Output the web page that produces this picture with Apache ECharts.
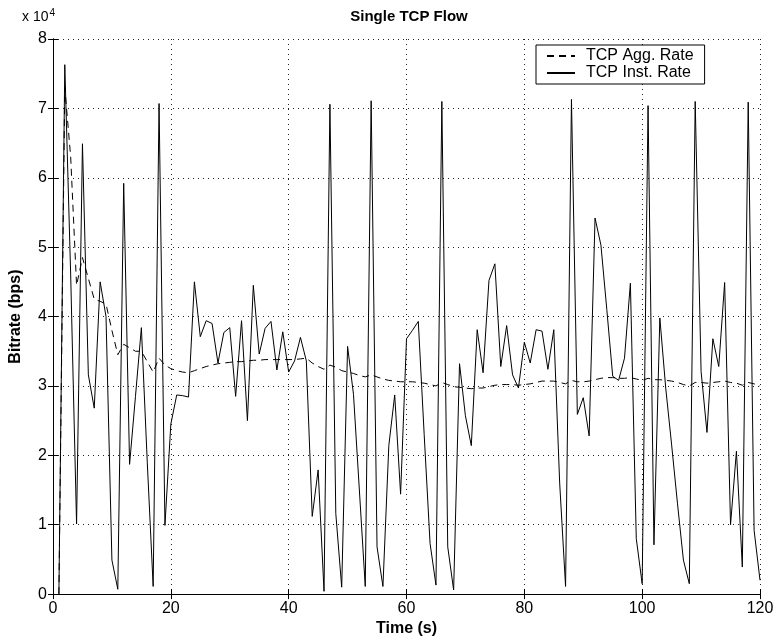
<!DOCTYPE html>
<html>
<head>
<meta charset="utf-8">
<script src="https://cdn.jsdelivr.net/npm/echarts@6/dist/echarts.min.js"></script>
<style>html,body{margin:0;padding:0;background:#fff}#c{width:778px;height:642px}</style>
</head>
<body>
<div id="c"></div>
<script>
// Values in units of 10^4 bps, one sample per second starting at t = 1 s
var instRate = [0, 7.63, 4.6, 1.01, 6.49, 3.16, 2.68, 4.5, 4.0, 0.49,
  0.07, 5.92, 1.87, 2.85, 3.84, 1.9, 0.11, 7.07, 0.99, 2.45,
  2.87, 2.86, 2.84, 4.5, 3.71, 3.94, 3.9, 3.33, 3.77, 3.84,
  2.85, 3.94, 2.5, 4.45, 3.46, 3.83, 3.93, 3.23, 3.78, 3.2,
  3.36, 3.7, 3.36, 1.12, 1.79, 0.04, 7.06, 1.16, 0.1, 3.57,
  2.88, 1.5, 0.11, 7.11, 0.68, 0.11, 2.14, 2.87, 1.44, 3.68,
  3.8, 3.93, 2.3, 0.73, 0.13, 7.1, 0.68, 0.06, 3.32, 2.57,
  2.14, 3.81, 3.19, 4.52, 4.76, 3.28, 3.87, 3.16, 2.97, 3.63,
  3.33, 3.81, 3.79, 3.24, 3.81, 1.6, 0.11, 7.13, 2.59, 2.83,
  2.28, 5.42, 5.03, 4.1, 3.14, 3.08, 3.4, 4.48, 0.8, 0.15,
  7.04, 0.71, 3.98, 2.97, 2.15, 1.3, 0.49, 0.15, 7.1, 3.21,
  2.33, 3.68, 3.28, 4.49, 1.0, 2.06, 0.39, 7.09, 0.92, 0.2];
var aggRate = [0, 7.3, 6.3, 4.45, 4.85, 4.55, 4.25, 4.22, 4.18, 3.8,
  3.45, 3.6, 3.55, 3.5, 3.5, 3.35, 3.2, 3.4, 3.3, 3.25,
  3.22, 3.2, 3.19, 3.22, 3.25, 3.28, 3.3, 3.32, 3.33, 3.34,
  3.35, 3.35, 3.36, 3.37, 3.37, 3.38, 3.38, 3.38, 3.38, 3.38,
  3.38, 3.39, 3.4, 3.33, 3.28, 3.24, 3.3, 3.27, 3.22, 3.2,
  3.18, 3.15, 3.13, 3.16, 3.13, 3.1, 3.08, 3.07, 3.06, 3.06,
  3.06, 3.05, 3.04, 3.02, 3.0, 3.05, 3.02, 2.99, 2.98, 2.97,
  2.96, 2.97, 2.97, 2.99, 3.01, 3.02, 3.02, 3.02, 3.01, 3.02,
  3.03, 3.05, 3.07, 3.07, 3.07, 3.05, 3.03, 3.08, 3.06, 3.06,
  3.07, 3.09, 3.11, 3.12, 3.12, 3.11, 3.11, 3.12, 3.1, 3.08,
  3.11, 3.09, 3.09, 3.08, 3.07, 3.05, 3.02, 3.0, 3.05, 3.05,
  3.04, 3.05, 3.06, 3.07, 3.05, 3.04, 3.01, 3.05, 3.03, 3.0];
var xTicks = [0, 20, 40, 60, 80, 100, 120];
var yTicks = [0, 1, 2, 3, 4, 5, 6, 7, 8];
var seriesNames = ['TCP Agg. Rate', 'TCP Inst. Rate'];

var FONT = '"Liberation Sans", Arial, Helvetica, sans-serif';
function pairs(arr) { return arr.map(function (v, i) { return [i + 1, v]; }); }

var chart = echarts.init(document.getElementById('c'), null, { renderer: 'canvas' });
var gridLine = { show: true, lineStyle: { color: '#222', width: 1, type: [1, 4] } };
var xBase = { type: 'value', min: xTicks[0], max: xTicks[xTicks.length - 1], interval: 20,
  axisLine: { show: true, lineStyle: { color: '#000', width: 1 } },
  axisTick: { show: true, inside: true, length: 5, lineStyle: { color: '#000' } } };
var yBase = { type: 'value', min: yTicks[0], max: yTicks[yTicks.length - 1], interval: 1,
  axisLine: { show: true, lineStyle: { color: '#000', width: 1 } },
  axisTick: { show: true, inside: true, length: 5, lineStyle: { color: '#000' } } };

chart.setOption({
  animation: false,
  backgroundColor: '#fff',
  title: { text: 'Single TCP Flow', left: 404, textAlign: 'center', top: 4,
    textStyle: { fontFamily: FONT, fontSize: 15, fontWeight: 'bold', color: '#000' } },
  grid: { left: 48, right: 18, top: 39, bottom: 45 },
  legend: { data: seriesNames, orient: 'vertical', left: 536, top: 45,
    backgroundColor: '#fff', borderColor: '#000', borderWidth: 1, borderRadius: 0,
    padding: [3, 11, 3, 10], itemGap: 1, itemWidth: 28, itemHeight: 12,
    itemStyle: { opacity: 0 },
    textStyle: { fontFamily: FONT, fontSize: 16, color: '#000', padding: [0, 0, 0, 6] } },
  xAxis: [
    Object.assign({}, xBase, { position: 'bottom',
      name: 'Time (s)', nameLocation: 'middle', nameGap: 24,
      nameTextStyle: { fontFamily: FONT, fontSize: 16, fontWeight: 'bold', color: '#000' },
      axisLabel: { show: true, margin: 6, fontFamily: FONT, fontSize: 16, color: '#000' },
      splitLine: gridLine }),
    Object.assign({}, xBase, { position: 'top', axisLabel: { show: false }, splitLine: { show: false } })
  ],
  yAxis: [
    Object.assign({}, yBase, { position: 'left',
      name: 'Bitrate (bps)', nameLocation: 'middle', nameGap: 29, nameRotate: 90,
      nameTextStyle: { fontFamily: FONT, fontSize: 16, fontWeight: 'bold', color: '#000' },
      axisLabel: { show: true, margin: 6, fontFamily: FONT, fontSize: 16, color: '#000' },
      splitLine: gridLine }),
    Object.assign({}, yBase, { position: 'right', axisLabel: { show: false }, splitLine: { show: false } })
  ],
  graphic: [{ type: 'text', left: 22, top: 8,
    style: { text: 'x 10{s|4}', fontFamily: FONT, fontSize: 14, fill: '#000',
      rich: { s: { fontFamily: FONT, fontSize: 10, verticalAlign: 'top', padding: [0, 0, 9, 1] } } } }],
  series: [
    { name: seriesNames[0], type: 'line', data: pairs(aggRate), symbol: 'none', showSymbol: false,
      lineStyle: { color: '#000', width: 1, type: [7, 5] }, itemStyle: { color: '#000' }, z: 3 },
    { name: seriesNames[1], type: 'line', data: pairs(instRate), symbol: 'none', showSymbol: false,
      lineStyle: { color: '#000', width: 1 }, itemStyle: { color: '#000' }, z: 4 }
  ]
});
</script>
</body>
</html>
